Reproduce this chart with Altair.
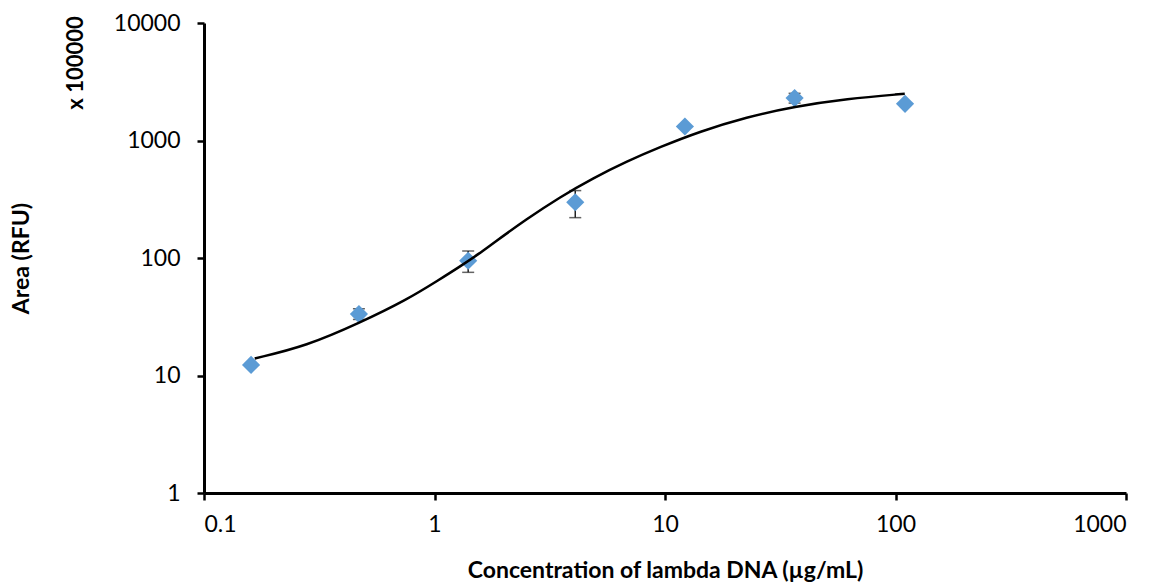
import altair as alt
import pandas as pd

# Measured points (concentration in µg/mL, area in RFU x 100000)
conc = [0.16, 0.47, 1.4, 4.08, 12.2, 36.5, 110]
area = [12.3, 33.3, 94.8, 298, 1315, 2296, 2052]
err_lo = [12.3, 30.0, 75.5, 220.5, 1315, 2080, 2052]
err_hi = [12.3, 37.0, 114.7, 374.6, 1315, 2520, 2052]

# Fitted curve
curve_x = [0.166, 0.278, 0.474, 0.755, 1.053, 1.286, 1.57, 1.794, 2.505, 3.493,
           4.871, 6.80, 9.49, 14.14, 22.55, 36.5, 61.2, 109.7]
curve_y = [13.97, 17.8, 28.1, 43.9, 65.8, 84.3, 109.6, 133.4, 213.8, 328.9,
           477.7, 661.5, 877.7, 1192, 1581, 1946, 2264, 2498]

x_ticks = [0.1, 1, 10, 100, 1000]
y_ticks = [1, 10, 100, 1000, 10000]

FONT = "Lato"

pts = pd.DataFrame({"x": conc, "y": area, "lo": err_lo, "hi": err_hi})
curve = pd.DataFrame({"x": curve_x, "y": curve_y})

xscale = alt.Scale(type="log", domain=[0.1, 1000], nice=False)
yscale = alt.Scale(type="log", domain=[1, 10000], nice=False)

xaxis = alt.Axis(values=x_ticks, format="~g", grid=False,
                 title="Concentration of lambda DNA (µg/mL)",
                 titleY=77, titleBaseline="middle")
yaxis = alt.Axis(values=y_ticks, format="~g", grid=False,
                 title="Area (RFU)", titleX=-183, titleY=235,
                 titleAngle=-90, titleAlign="center", titleBaseline="middle")

base = alt.Chart(pts)

err_rule = base.mark_rule(color="#222222", strokeWidth=1.5).encode(
    x=alt.X("x:Q", scale=xscale, axis=xaxis),
    y=alt.Y("lo:Q", scale=yscale, axis=yaxis),
    y2="hi:Q",
)
cap_lo = base.mark_tick(color="#222222", orient="horizontal", size=12, thickness=1.5).encode(
    x=alt.X("x:Q", scale=xscale), y=alt.Y("lo:Q", scale=yscale))
cap_hi = base.mark_tick(color="#222222", orient="horizontal", size=12, thickness=1.5).encode(
    x=alt.X("x:Q", scale=xscale), y=alt.Y("hi:Q", scale=yscale))

points = base.mark_point(shape="diamond", filled=True, size=330, opacity=1,
                         color="#5B9BD5").encode(
    x=alt.X("x:Q", scale=xscale), y=alt.Y("y:Q", scale=yscale))

line = alt.Chart(curve).mark_line(color="black", strokeWidth=2.5,
                                  interpolate="basis").encode(
    x=alt.X("x:Q", scale=xscale), y=alt.Y("y:Q", scale=yscale))

mult = alt.Chart(pd.DataFrame({"t": ["x 100000"]})).mark_text(
    angle=270, font=FONT, fontSize=22, fontWeight="bold", color="black",
    align="center", baseline="middle").encode(
    text="t:N", x=alt.value(-128), y=alt.value(40))

chart = alt.layer(err_rule, cap_lo, cap_hi, points, line, mult).properties(
    width=922, height=470,
    autosize=alt.AutoSizeParams(type="none"),
    padding={"left": 204, "top": 23, "right": 32, "bottom": 90},
).configure_view(stroke=None).configure_axis(
    domainColor="black", domainWidth=3, tickColor="black", tickWidth=2.5,
    tickSize=7, labelFont=FONT, labelFontSize=23, labelColor="black",
    titleFont=FONT, titleFontSize=23, titleFontWeight="bold",
    titleColor="black",
).configure_axisX(labelPadding=13).configure_axisY(labelPadding=17)

chart.save("out.html", embed_options={"renderer": "svg", "actions": False})
